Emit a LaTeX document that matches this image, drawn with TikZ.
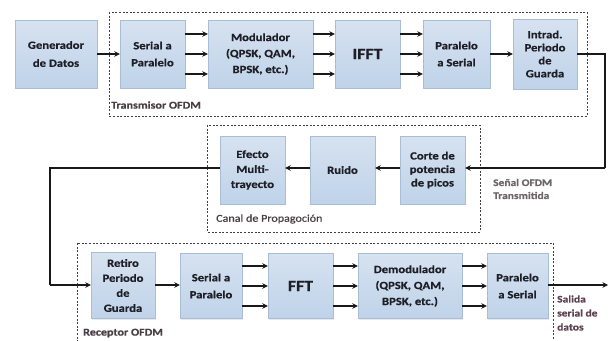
\documentclass[tikz,border=0pt]{standalone}
\usepackage{fontspec}
\setmainfont{Carlito}[FakeStretch=1.15,FakeBold=0.6]
\usetikzlibrary{arrows.meta,shadows}
\definecolor{boxtop}{HTML}{D6E2F0}
\definecolor{boxbot}{HTML}{BFD3E9}
\definecolor{boxline}{HTML}{A9BED6}
\definecolor{txt}{HTML}{1E1E26}
\definecolor{cap}{HTML}{4A3E44}
\definecolor{capout}{HTML}{5E3F50}
\begin{document}
\begin{tikzpicture}[x=1pt,y=-1pt,
  blk/.style={rectangle, draw=boxline, line width=0.4pt,
    top color=boxtop, bottom color=boxbot,
    drop shadow={opacity=0.18, shadow xshift=1.2pt, shadow yshift=-1.2pt},
    minimum height=68pt, inner sep=1pt, align=center,
    font=\fontsize{11}{15}\selectfont\bfseries, text=txt},
  big/.style={font=\fontsize{15.5}{17}\selectfont\bfseries},
  grp/.style={draw=black!75, line width=0.7pt, dash pattern=on 2pt off 1.6pt},
  arr/.style={draw=black!90, line width=1.4pt, -{Stealth[length=5.5pt,width=5.5pt]}},
  wire/.style={draw=black!90, line width=1.3pt},
  lbl/.style={font=\fontsize{10.5}{14}\selectfont\bfseries, text=cap, inner sep=0pt, anchor=west, align=left}
]
\clip (0,0) rectangle (610,340);
\fill[white] (0,0) rectangle (610,340);

% --- transmitter ---
\draw[grp] (109,12) rectangle (587,116);
\node[lbl] (txlbl) at (111,105) {Transmisor OFDM};
\node[blk, minimum width=82pt, font=\fontsize{11}{18}\selectfont\bfseries] (gen) at (56,54) {Generador\\de Datos};
\node[blk, minimum width=65pt, font=\fontsize{11}{17}\selectfont\bfseries] (s2p) at (152.5,54) {Serial a\\Paralelo};
\node[blk, minimum width=105pt, font=\fontsize{11}{16}\selectfont\bfseries] (mod) at (260.5,54) {Modulador\\(QPSK, QAM,\\BPSK, etc.)};
\node[blk, minimum width=65pt, big] (ifft) at (367.5,54) {IFFT};
\node[blk, minimum width=67pt, font=\fontsize{11}{17}\selectfont\bfseries] (p2s) at (456.5,54) {Paralelo\\a Serial};
\node[blk, minimum width=64pt, minimum height=70pt, font=\fontsize{11}{13}\selectfont\bfseries] (intr) at (545,54) {Intrad.\\Periodo\\de\\Guarda};

\draw[arr] (gen) -- (s2p);
\foreach \d in {-20,0,20}{
  \draw[arr] ([yshift=\d pt]s2p.east) -- ([yshift=\d pt]mod.west);
  \draw[arr] ([yshift=\d pt]mod.east) -- ([yshift=\d pt]ifft.west);
  \draw[arr] ([yshift=\d pt]ifft.east) -- ([yshift=\d pt]p2s.west);
}
\draw[arr] (p2s) -- (intr);

% --- channel ---
\draw[grp] (207,125) rectangle (480,232);
\node[lbl, font=\fontsize{10.5}{14}\selectfont, text=cap] (chlbl) at (216,219) {Canal de Propagoción};
\node[blk, minimum width=65pt, font=\fontsize{11}{15}\selectfont\bfseries] (efe) at (252.5,170) {Efecto\\Multi-\\trayecto};
\node[blk, minimum width=65pt] (rui) at (342.5,170) {Ruido};
\node[blk, minimum width=65pt, font=\fontsize{11}{13.5}\selectfont\bfseries] (cor) at (432.5,170) {Corte de\\potencia\\de picos};
\node[lbl, font=\fontsize{10}{13}\selectfont\bfseries, text=cap!80] (txsig) at (493,189) {Señal OFDM\\Transmitida};

\coordinate (r1) at (605,54);
\coordinate (r2) at (605,168);
\draw[wire] (intr.east) -- (r1) -- (r2);
\draw[arr] (r2) -- (cor.east |- r2);
\draw[arr] (cor.west |- r2) -- (rui.east |- r2);
\draw[arr] (rui.west |- r2) -- (efe.east |- r2);

% --- receiver ---
\draw[grp] (77,243) rectangle (553,350);
\node[lbl] (rxlbl) at (83,333) {Receptor OFDM};
\node[blk, minimum width=64pt, minimum height=66pt, font=\fontsize{11}{15}\selectfont\bfseries] (ret) at (123,285.5) {Retiro\\Periodo\\de\\Guarda};
\node[blk, minimum width=62pt, minimum height=65pt, font=\fontsize{11}{17}\selectfont\bfseries] (s2pr) at (211,286) {Serial a\\Paralelo};
\node[blk, minimum width=65pt, minimum height=65pt, big] (fft) at (300.5,286) {FFT};
\node[blk, minimum width=104pt, minimum height=65pt, font=\fontsize{11}{16}\selectfont\bfseries] (dem) at (410,286) {Demodulador\\(QPSK, QAM,\\BPSK, etc.)};
\node[blk, minimum width=61pt, minimum height=65pt, font=\fontsize{11}{17}\selectfont\bfseries] (p2sr) at (517.5,286) {Paralelo\\a Serial};
\node[lbl, font=\fontsize{10}{14}\selectfont\bfseries, text=capout] (outlbl) at (557,313) {Salida\\serial de\\datos};

\coordinate (l1) at (50,168);
\coordinate (l2) at (50,285);
\draw[wire] (efe.west |- l1) -- (l1) -- (l2);
\draw[arr] (l2) -- (ret.west |- l2);
\draw[arr] (ret.east |- l2) -- (s2pr.west |- l2);
\foreach \d in {-20,0,20}{
  \draw[arr] ([yshift=\d pt]s2pr.east) -- ([yshift=\d pt]fft.west);
  \draw[arr] ([yshift=\d pt]fft.east) -- ([yshift=\d pt]dem.west);
  \draw[arr] ([yshift=\d pt]dem.east) -- ([yshift=\d pt]p2sr.west);
}
\coordinate (out) at (608,285);
\draw[arr] (p2sr.east |- out) -- (out);
\end{tikzpicture}
\end{document}
